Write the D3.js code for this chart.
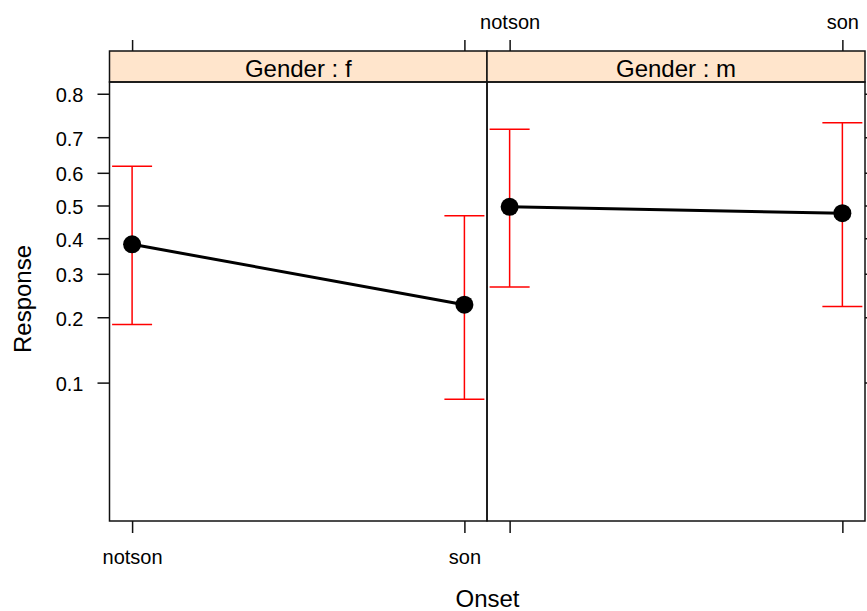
<!DOCTYPE html>
<html>
<head>
<meta charset="utf-8">
<script src="https://cdn.jsdelivr.net/npm/d3@7"></script>
<style>
  body { margin: 0; background: #fff; }
  text { font-family: "Liberation Sans", Arial, sans-serif; fill: #000; }
</style>
</head>
<body>
<div id="chart"></div>
<script>
// data (probabilities, logit scale)
var onsetLevels = ["notson", "son"];
var genderLevels = ["f", "m"];
var fitF = [0.382, 0.226];
var lowerF = [0.186, 0.083];
var upperF = [0.619, 0.468];
var fitM = [0.496, 0.476];
var lowerM = [0.267, 0.222];
var upperM = [0.720, 0.736];
var yTickValues = [0.1, 0.2, 0.3, 0.4, 0.5, 0.6, 0.7, 0.8];

var svgWidth = 867;
var svgHeight = 611;

var stripTop = 51;
var panelTop = 82;
var panelBottom = 521;
var panelEdges = [109.5, 487, 865];

var logit = p => Math.log(p / (1 - p));

var svg = d3.select("#chart")
  .append("svg")
  .attr("width", svgWidth)
  .attr("height", svgHeight);

// y: linear in logit units
var yScale = d3.scaleLinear()
  .domain([-3.914, 1.532])
  .range([panelBottom, panelTop]);

var panels = genderLevels.map(function(g, i) {
  return {
    gender: g,
    left: panelEdges[i],
    right: panelEdges[i + 1],
    fit: i === 0 ? fitF : fitM,
    lower: i === 0 ? lowerF : lowerM,
    upper: i === 0 ? upperF : upperM
  };
});

function styleAxis(g, size) {
  g.select(".domain").remove();
  g.selectAll(".tick line").attr("stroke", "#111").attr("stroke-width", 1.5);
  g.selectAll(".tick text")
    .attr("font-family", "Liberation Sans, Arial, sans-serif")
    .attr("font-size", size)
    .attr("fill", "#000");
}

panels.forEach(function(p, i) {
  var xScale = d3.scalePoint()
    .domain(onsetLevels)
    .range([p.left, p.right])
    .padding(0.068);

  // strip
  svg.append("rect")
    .attr("x", p.left)
    .attr("y", stripTop)
    .attr("width", p.right - p.left)
    .attr("height", panelTop - stripTop)
    .attr("fill", "#ffe5cc")
    .attr("stroke", "#111")
    .attr("stroke-width", 1.5);

  svg.append("text")
    .attr("x", (p.left + p.right) / 2)
    .attr("y", 77)
    .attr("text-anchor", "middle")
    .attr("font-size", 24)
    .text("Gender : " + p.gender);

  // panel box
  svg.append("rect")
    .attr("x", p.left)
    .attr("y", panelTop)
    .attr("width", p.right - p.left)
    .attr("height", panelBottom - panelTop)
    .attr("fill", "none")
    .attr("stroke", "#111")
    .attr("stroke-width", 1.5);

  // top axis: labels only on right panel
  var top = svg.append("g")
    .attr("transform", `translate(0, ${stripTop})`)
    .call(d3.axisTop(xScale).tickSize(11).tickPadding(11)
      .tickFormat(i === 1 ? d => d : () => ""));
  styleAxis(top, 20);

  // bottom axis: labels only on left panel
  var bottom = svg.append("g")
    .attr("transform", `translate(0, ${panelBottom})`)
    .call(d3.axisBottom(xScale).tickSize(12).tickPadding(17)
      .tickFormat(i === 0 ? d => d : () => ""));
  styleAxis(bottom, 20);

  // error bars
  var bars = svg.append("g")
    .attr("stroke", "#ff0000")
    .attr("stroke-width", 1.5)
    .attr("fill", "none");
  onsetLevels.forEach(function(lev, j) {
    var x = xScale(lev);
    var y1 = yScale(logit(p.lower[j]));
    var y2 = yScale(logit(p.upper[j]));
    bars.append("line").attr("x1", x).attr("x2", x).attr("y1", y1).attr("y2", y2);
    bars.append("line").attr("x1", x - 20).attr("x2", x + 20).attr("y1", y1).attr("y2", y1);
    bars.append("line").attr("x1", x - 20).attr("x2", x + 20).attr("y1", y2).attr("y2", y2);
  });

  // fitted line and points
  var pts = onsetLevels.map((lev, j) => [xScale(lev), yScale(logit(p.fit[j]))]);
  svg.append("path")
    .attr("d", d3.line()(pts))
    .attr("fill", "none")
    .attr("stroke", "#000")
    .attr("stroke-width", 3);

  svg.selectAll(null)
    .data(pts)
    .enter()
    .append("circle")
    .attr("cx", d => d[0])
    .attr("cy", d => d[1])
    .attr("r", 9)
    .attr("fill", "#000");
});

// left y axis with labels
var yLeft = svg.append("g")
  .attr("transform", `translate(${panelEdges[0]}, 0)`)
  .call(d3.axisLeft(yScale)
    .tickValues(yTickValues.map(logit))
    .tickFormat((d, i) => yTickValues[i])
    .tickSize(12).tickPadding(14));
styleAxis(yLeft, 20);
yLeft.selectAll(".tick text").attr("dy", "0.4em");

// right y axis, ticks only
var yRight = svg.append("g")
  .attr("transform", `translate(${panelEdges[2]}, 0)`)
  .call(d3.axisRight(yScale)
    .tickValues(yTickValues.map(logit))
    .tickFormat(() => "")
    .tickSize(12));
styleAxis(yRight, 20);

// axis titles
svg.append("text")
  .attr("x", 487.5)
  .attr("y", 607)
  .attr("text-anchor", "middle")
  .attr("font-size", 24)
  .text("Onset");

svg.append("text")
  .attr("transform", "translate(31, 299) rotate(-90)")
  .attr("text-anchor", "middle")
  .attr("font-size", 24)
  .text("Response");
</script>
</body>
</html>
